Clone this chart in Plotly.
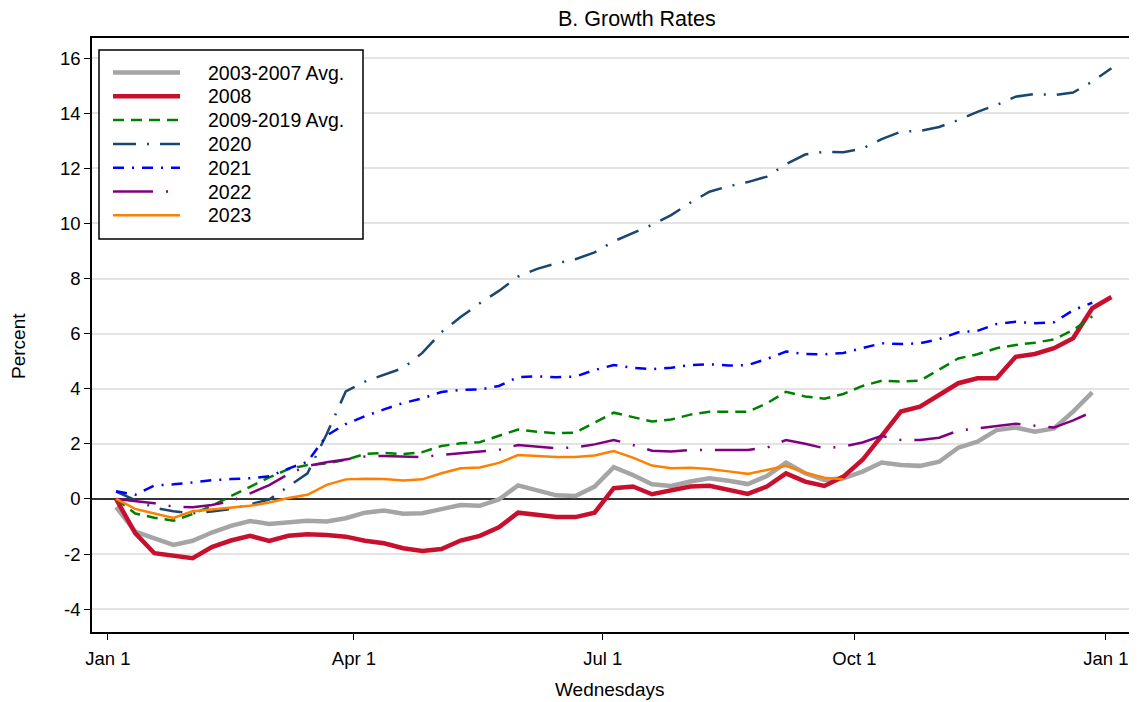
import plotly.graph_objects as go

# Week index -> day of year of each Wednesday observation
n_weeks = 53
wed_days = [3 + 7 * k for k in range(n_weeks)]

tick_days = [0, 90, 181, 273, 365]
tick_labels = ["Jan 1", "Apr 1", "Jul 1", "Oct 1", "Jan 1"]
y_ticks = [-4, -2, 0, 2, 4, 6, 8, 10, 12, 14, 16]
y_tick_labels = ["-4", "-2", "0", "2", "4", "6", "8", "10", "12", "14", "16"]

avg_2003_2007 = [-0.30, -1.19, -1.43, -1.67, -1.52, -1.22, -0.98, -0.80, -0.91, -0.86,
                 -0.79, -0.82, -0.70, -0.50, -0.42, -0.54, -0.52, -0.37, -0.22, -0.25,
                 -0.02, 0.49, 0.31, 0.13, 0.11, 0.45, 1.15, 0.87, 0.53, 0.47,
                 0.63, 0.75, 0.66, 0.54, 0.83, 1.32, 0.93, 0.69, 0.75, 0.99,
                 1.32, 1.23, 1.20, 1.35, 1.86, 2.08, 2.50, 2.59, 2.44, 2.56,
                 3.17, 3.87]

y2008 = [0.00, -1.24, -1.97, -2.07, -2.15, -1.75, -1.51, -1.34, -1.52, -1.34,
         -1.28, -1.31, -1.37, -1.52, -1.61, -1.79, -1.89, -1.82, -1.51, -1.34,
         -1.03, -0.50, -0.58, -0.66, -0.66, -0.50, 0.39, 0.45, 0.17, 0.31,
         0.45, 0.48, 0.35, 0.18, 0.45, 0.93, 0.63, 0.47, 0.81, 1.42,
         2.29, 3.17, 3.35, 3.77, 4.20, 4.38, 4.38, 5.16, 5.26, 5.47,
         5.83, 6.92, 7.33]

avg_2009_2019 = [0.00, -0.53, -0.68, -0.79, -0.55, -0.25, 0.10, 0.45, 0.78, 1.08,
                 1.23, 1.29, 1.42, 1.63, 1.67, 1.63, 1.70, 1.92, 2.02, 2.06,
                 2.28, 2.52, 2.44, 2.38, 2.41, 2.77, 3.13, 2.97, 2.81, 2.88,
                 3.06, 3.16, 3.15, 3.16, 3.47, 3.89, 3.72, 3.64, 3.81, 4.10,
                 4.29, 4.26, 4.29, 4.69, 5.10, 5.25, 5.47, 5.59, 5.67, 5.79,
                 6.13, 6.63]

y2020 = [0.27, -0.04, -0.32, -0.45, -0.52, -0.46, -0.37, -0.20, -0.02, 0.45,
         0.93, 2.35, 3.90, 4.26, 4.50, 4.75, 5.30, 6.05, 6.60, 7.10,
         7.55, 8.07, 8.35, 8.55, 8.70, 8.95, 9.35, 9.65, 9.95, 10.30,
         10.75, 11.15, 11.35, 11.50, 11.70, 12.15, 12.50, 12.60, 12.58, 12.72,
         13.06, 13.33, 13.36, 13.50, 13.75, 14.05, 14.30, 14.60, 14.70, 14.66,
         14.75, 15.15, 15.63]

y2021 = [0.28, 0.15, 0.49, 0.53, 0.60, 0.68, 0.72, 0.75, 0.82, 1.10,
         1.35, 2.30, 2.72, 3.00, 3.25, 3.48, 3.65, 3.88, 3.96, 3.97,
         4.10, 4.42, 4.45, 4.42, 4.44, 4.68, 4.86, 4.76, 4.71, 4.76,
         4.86, 4.89, 4.84, 4.86, 5.08, 5.35, 5.26, 5.25, 5.30, 5.48,
         5.65, 5.62, 5.65, 5.80, 6.05, 6.10, 6.35, 6.43, 6.38, 6.41,
         6.85, 7.12]

y2022 = [0.00, -0.08, -0.16, -0.28, -0.30, -0.22, -0.08, 0.20, 0.50, 0.90,
         1.20, 1.33, 1.44, 1.54, 1.56, 1.53, 1.52, 1.60, 1.66, 1.70,
         1.78, 1.96, 1.90, 1.84, 1.87, 1.98, 2.14, 1.96, 1.75, 1.72,
         1.78, 1.78, 1.78, 1.78, 1.86, 2.14, 2.00, 1.84, 1.90, 2.05,
         2.29, 2.14, 2.14, 2.22, 2.48, 2.56, 2.66, 2.73, 2.66, 2.59,
         2.85, 3.16]

y2023 = [0.00, -0.36, -0.53, -0.69, -0.45, -0.38, -0.33, -0.25, -0.13, 0.03,
         0.15, 0.51, 0.71, 0.73, 0.72, 0.67, 0.71, 0.93, 1.11, 1.14,
         1.31, 1.59, 1.56, 1.52, 1.52, 1.58, 1.74, 1.50, 1.21, 1.11,
         1.13, 1.09, 1.00, 0.91, 1.05, 1.20, 0.95, 0.77, 0.71]

series = [
    ("2003-2007 Avg.", avg_2003_2007, "#a5a5a5", 4.5, "solid"),
    ("2008", y2008, "#c8102e", 4.5, "solid"),
    ("2009-2019 Avg.", avg_2009_2019, "#008000", 2.5, "11px,7px"),
    ("2020", y2020, "#1a476f", 2.5, "23px,11px,2px,11px"),
    ("2021", y2021, "#0000ff", 2.5, "11px,8px,2px,8px"),
    ("2022", y2022, "#800080", 2.5, "40px,13px,2px,13px"),
    ("2023", y2023, "#ff8000", 2.5, "solid"),
]

# The page body adds an 8px offset; the figure is sized to fill the rest.
OFF = 8
W, H = 1137 - OFF, 702 - OFF
PLOT_L, PLOT_R, PLOT_T, PLOT_B = 92, 1130, 38, 632   # target page pixels
ML, MR, MT, MB = PLOT_L - OFF, W - (PLOT_R - OFF), PLOT_T - OFF, H - (PLOT_B - OFF)
PW, PH = W - ML - MR, H - MT - MB


def px_x(px):
    return (px - PLOT_L) / PW


def px_y(py):
    return (PLOT_B - py) / PH


fig = go.Figure()
for name, vals, color, width, dash in series:
    fig.add_trace(go.Scatter(
        x=wed_days[:len(vals)], y=vals, mode="lines", name=name,
        line=dict(color=color, width=width, dash=dash), showlegend=False,
    ))

font_family = "Arial, Liberation Sans, sans-serif"

# Manual legend (box, line samples, labels)
shapes = [dict(type="rect", xref="paper", yref="paper",
               x0=px_x(99), x1=px_x(363), y0=px_y(239), y1=px_y(50),
               line=dict(color="black", width=1.5), fillcolor="white", layer="above")]
annotations = []
row0, row_gap = 72.5, 23.8
for i, (name, vals, color, width, dash) in enumerate(series):
    yy = px_y(row0 + i * row_gap)
    shapes.append(dict(type="line", xref="paper", yref="paper",
                       x0=px_x(113), x1=px_x(180), y0=yy, y1=yy,
                       line=dict(color=color, width=width, dash=dash), layer="above"))
    annotations.append(dict(text=name, xref="paper", yref="paper", x=px_x(206), y=yy,
                            xanchor="left", yanchor="middle", showarrow=False,
                            font=dict(size=19.5, color="black", family=font_family)))

annotations.append(dict(text="Wednesdays", xref="paper", yref="paper",
                        x=px_x(610), y=px_y(689), xanchor="center", yanchor="middle",
                        showarrow=False, font=dict(size=19, color="black")))
annotations.append(dict(text="Percent", xref="paper", yref="paper",
                        x=px_x(18), y=px_y(346), xanchor="center", yanchor="middle",
                        textangle=-90, showarrow=False, font=dict(size=19, color="black")))
# Title as an annotation so that it sits fully inside the figure
annotations.append(dict(text="B. Growth Rates", xref="paper", yref="paper",
                        x=px_x(637), y=px_y(19), xanchor="center", yanchor="middle",
                        showarrow=False, font=dict(size=21.5, color="black")))

fig.update_layout(
    width=W, height=H,
    margin=dict(l=ML, r=MR, t=MT, b=MB, autoexpand=False),
    paper_bgcolor="white", plot_bgcolor="white",
    font=dict(family=font_family, size=18.5, color="black"),
    showlegend=False,
    shapes=shapes,
    annotations=annotations,
    xaxis=dict(range=[-5.8, 373.8], tickvals=tick_days, ticktext=tick_labels,
               showgrid=False, zeroline=False, showline=True, linecolor="black",
               linewidth=1.5, mirror=True, ticks="outside", ticklen=6,
               tickcolor="black", tickwidth=1.2, automargin=False,
               ticklabelstandoff=3),
    yaxis=dict(range=[-4.83, 16.73], tickvals=y_ticks, ticktext=y_tick_labels,
               showgrid=True, gridcolor="#e3e3e3", gridwidth=1.5,
               zeroline=True, zerolinecolor="#333333", zerolinewidth=1.5,
               showline=True, linecolor="black", linewidth=1.5, mirror=True,
               ticks="outside", ticklen=6, tickcolor="black", tickwidth=1.2,
               automargin=False),
)

fig.write_html("out.html")
